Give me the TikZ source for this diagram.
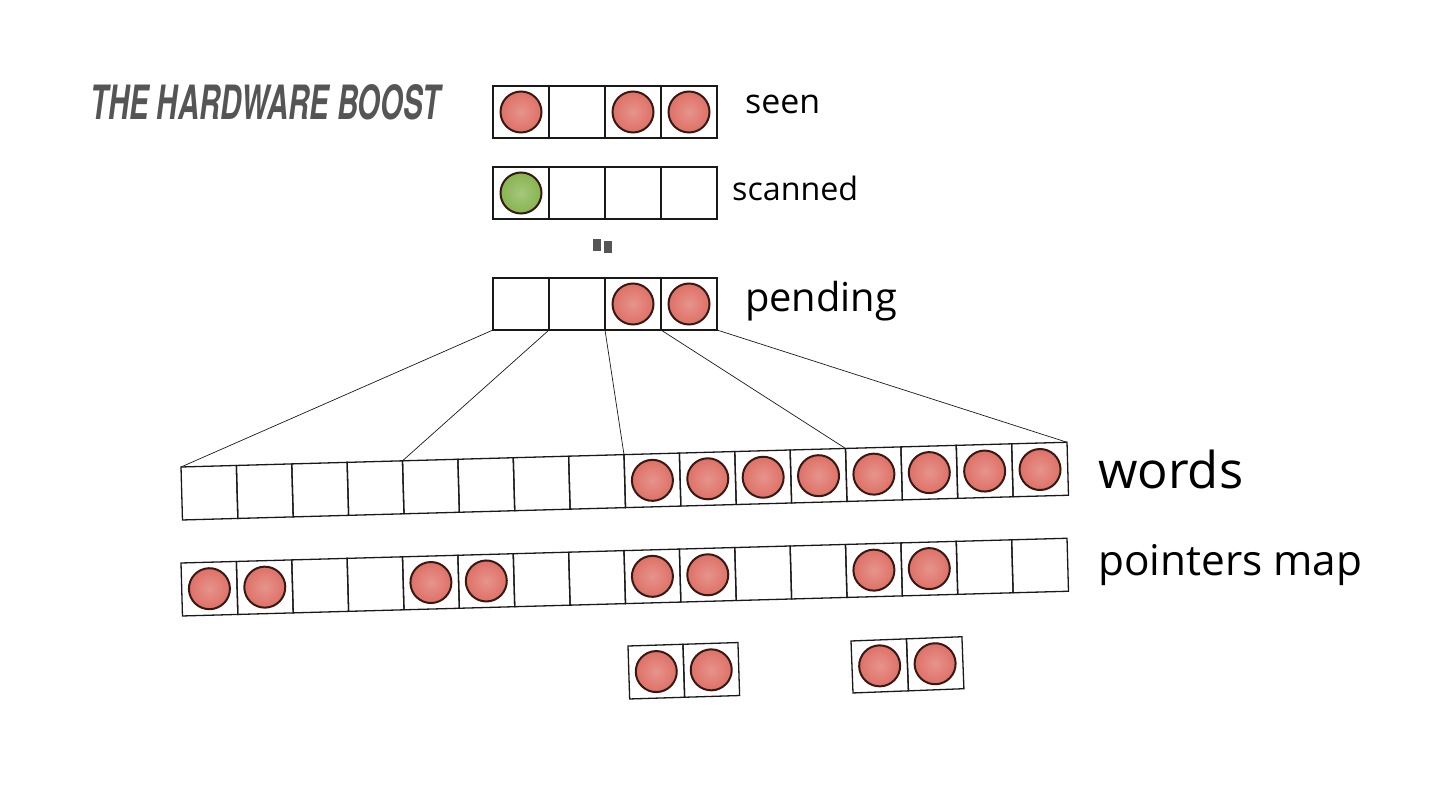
\documentclass[tikz,border=0pt]{standalone}
\usepackage{fontspec}
\setmainfont{Open Sans}
\newfontfamily\titlefont{TeX Gyre Heros}
\definecolor{ink}{RGB}{25,25,25}
\definecolor{ballred}{RGB}{222,112,102}
\definecolor{ballgreen}{RGB}{135,180,80}
\definecolor{balledge}{RGB}{55,25,20}
\definecolor{titlegray}{RGB}{85,85,85}
\begin{document}
\begin{tikzpicture}[x=1pt,y=-1pt,
 cell/.style={draw=ink, line width=1.3pt, rectangle, minimum width=56pt, minimum height=52pt, inner sep=0pt, outer sep=0pt},
 wcell/.style={cell, minimum width=55.4pt, minimum height=53pt},
 dot/.style={circle, draw=balledge, line width=2pt, inner color=ballred!75!white, outer color=ballred, minimum size=41pt, inner sep=0pt},
 gdot/.style={dot, inner color=ballgreen!75!white, outer color=ballgreen},
 link/.style={draw=ink, line width=0.7pt},
 lbl/.style={inner sep=0pt, anchor=west, text=black}]
\useasboundingbox (0,0) rectangle (1440,810);

% title
\node[inner sep=0pt, anchor=west, text=titlegray] (title) at (90,102)
  {\resizebox{350pt}{35pt}{\titlefont\bfseries\itshape THE HARDWARE BOOST}};

% seen
\foreach \i in {0,...,3} \node[cell] (s\i) at ({521+56*\i},112) {};
\foreach \i in {0,2,3} \node[dot] (sd\i) at (s\i) {};
\node[lbl] (seenlbl) at (745,104) {\resizebox{75pt}{!}{seen}};

% scanned
\foreach \i in {0,...,3} \node[cell] (c\i) at ({521+56*\i},193) {};
\node[gdot] (cd0) at (c0) {};
\node[lbl] (scannedlbl) at (732,188) {\resizebox{126pt}{!}{scanned}};

% mark
\fill[titlegray] (593,239) rectangle (601,251);
\fill[titlegray] (604,241) rectangle (612,253);

% pending
\foreach \i in {0,...,3} \node[cell] (p\i) at ({521+56*\i},304) {};
\foreach \i in {2,3} \node[dot] (pd\i) at (p\i) {};
\node[lbl] (pendinglbl) at (745,301) {\resizebox{152pt}{!}{pending}};

% words
\begin{scope}[rotate around={1.6:(181,467)}, transform shape]
\foreach \i in {0,...,15} \node[wcell] (w\i) at ({181+27.7+55.4*\i},493.5) {};
\foreach \i in {8,...,15} \node[dot] (wd\i) at (w\i) {};
\end{scope}
\node[lbl] (wordslbl) at (1098,469) {\resizebox{145pt}{!}{words}};

% pointers map
\begin{scope}[rotate around={1.6:(181,563)}, transform shape]
\foreach \i in {0,...,15} \node[wcell] (m\i) at ({181+27.7+55.4*\i},589.5) {};
\foreach \i in {0,1,4,5,8,9,12,13} \node[dot] (md\i) at (m\i) {};
\end{scope}
\node[lbl] (pointerslbl) at (1098,565) {\resizebox{264pt}{!}{pointers map}};

% small arrays
\begin{scope}[rotate around={1.8:(628,646)}, transform shape]
\foreach \i in {0,1} \node[cell, minimum width=55pt, minimum height=53pt] (a\i) at ({628+27.5+55*\i},672.5) {};
\foreach \i in {0,1} \node[dot] (ad\i) at (a\i) {};
\end{scope}
\begin{scope}[rotate around={2.2:(851,641)}, transform shape]
\foreach \i in {0,1} \node[cell, minimum width=55.5pt, minimum height=52pt] (b\i) at ({851+27.75+55.5*\i},667) {};
\foreach \i in {0,1} \node[dot] (bd\i) at (b\i) {};
\end{scope}

% connectors
\draw[link] (p0.south west) -- (w0.north west);
\draw[link] (p1.south west) -- (w4.north west);
\draw[link] (p2.south west) -- (w8.north west);
\draw[link] (p3.south west) -- (w12.north west);
\draw[link] (p3.south east) -- (w15.north east);
\end{tikzpicture}
\end{document}
